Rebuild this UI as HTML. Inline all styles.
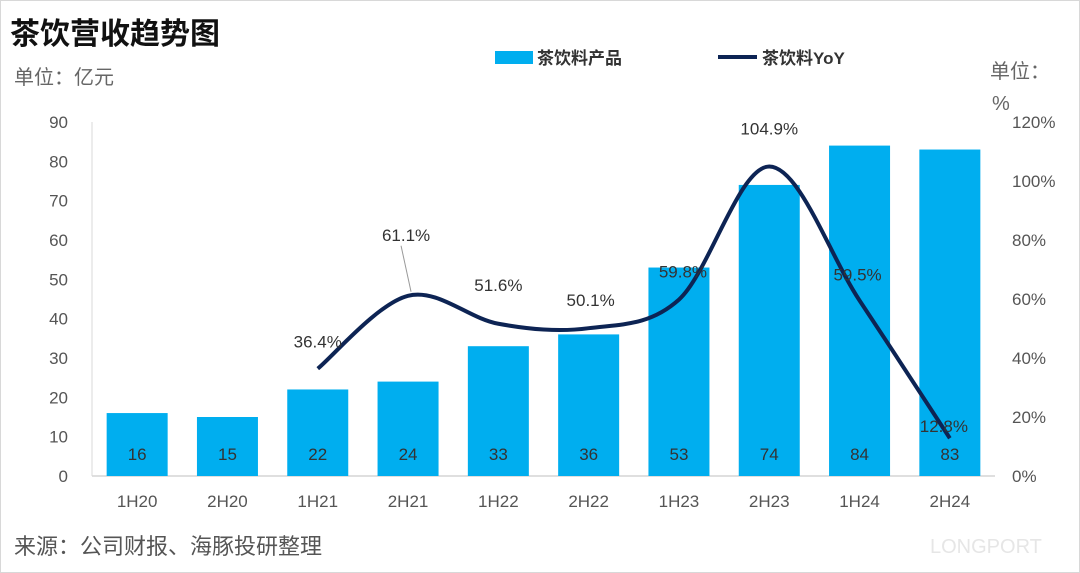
<!DOCTYPE html>
<html><head><meta charset="utf-8">
<style>
body{margin:0;background:#fff;}
svg{display:block;font-family:"Liberation Sans","Noto Sans CJK SC",sans-serif;}
</style></head>
<body>
<svg id="chart" width="1080" height="573" viewBox="0 0 1080 573">
<rect x="0.5" y="0.5" width="1079" height="572" fill="#fff" stroke="#d8d8d8"/>
<text x="10" y="44" font-size="30" font-weight="bold" fill="#111">茶饮营收趋势图</text>
<text x="14" y="84" font-size="20" fill="#666">单位：亿元</text>
<text x="990" y="78" font-size="20" fill="#666">单位：</text>
<text x="992" y="110" font-size="20" fill="#666">%</text>
<g>
<rect x="495" y="51" width="38" height="13" fill="#00aeef"/>
<text x="537" y="64" font-size="17" font-weight="bold" fill="#333">茶饮料产品</text>
<line x1="718" y1="57" x2="757" y2="57" stroke="#0d2454" stroke-width="4"/>
<text x="762" y="64" font-size="17" font-weight="bold" fill="#333">茶饮料YoY</text>
</g>
<g id="axes"></g><g id="bars"></g><g id="line"></g>
<text x="14" y="554" font-size="22" fill="#555">来源：公司财报、海豚投研整理</text>
<text x="930" y="553" font-size="20" fill="#e6e6e6">LONGPORT</text>
</svg>
<script>
const categories=["1H20","2H20","1H21","2H21","1H22","2H22","1H23","2H23","1H24","2H24"];
const revenue=[16,15,22,24,33,36,53,74,84,83];
const yoy=[null,null,36.4,61.1,51.6,50.1,59.8,104.9,59.5,12.8];
const leftTicks=[0,10,20,30,40,50,60,70,80,90];
const rightTicks=[0,20,40,60,80,100,120];
const NS="http://www.w3.org/2000/svg";
const x0=92,x1=995,yBase=476,yTop=122;
const step=(x1-x0)/categories.length;
const xs=i=>x0+step*(i+0.5);
const yL=v=>yBase-(v/90)*(yBase-yTop);
const yR=v=>yBase-(v/120)*(yBase-yTop);
function mk(tag,attrs,parent,txt){const e=document.createElementNS(NS,tag);for(const k in attrs)e.setAttribute(k,attrs[k]);if(txt!=null)e.textContent=txt;parent.appendChild(e);return e;}
const ax=document.getElementById('axes'),bg=document.getElementById('bars'),lg=document.getElementById('line');
let e=mk('line',{x1:x0,y1:yBase,x2:x1,y2:yBase,stroke:'#bfbfbf'},ax);

e=mk('line',{x1:x0,y1:yTop,x2:x0,y2:yBase,stroke:'#d9d9d9'},ax);

leftTicks.forEach(t=>{const el=mk('text',{x:68,y:yL(t)+6,'text-anchor':'end','font-size':17,fill:'#555'},ax,t);
});
rightTicks.forEach(t=>{const el=mk('text',{x:1012,y:yR(t)+6,'font-size':17,fill:'#555'},ax,t+'%');
});
categories.forEach((c,i)=>{const el=mk('text',{x:xs(i),y:507,'text-anchor':'middle','font-size':17,fill:'#555'},ax,c);
});
revenue.forEach((v,i)=>{const w=61;const r=mk('rect',{x:xs(i)-w/2,y:yL(v),width:w,height:yBase-yL(v),fill:'#00aeef'},bg);

const t=mk('text',{x:xs(i),y:460,'text-anchor':'middle','font-size':17,fill:'#333'},bg,v);
});
const pts=[];yoy.forEach((v,i)=>{if(v!=null)pts.push([xs(i),yR(v)]);});
let d='M'+pts[0][0]+','+pts[0][1];
for(let i=0;i<pts.length-1;i++){const p0=pts[Math.max(0,i-1)],p1=pts[i],p2=pts[i+1],p3=pts[Math.min(pts.length-1,i+2)];
const c1=[p1[0]+(p2[0]-p0[0])/6,p1[1]+(p2[1]-p0[1])/6],c2=[p2[0]-(p3[0]-p1[0])/6,p2[1]-(p3[1]-p1[1])/6];
d+=' C'+c1[0]+','+c1[1]+' '+c2[0]+','+c2[1]+' '+p2[0]+','+p2[1];}
const path=mk('path',{d:d,fill:'none',stroke:'#0d2454','stroke-width':4,'stroke-linejoin':'round'},lg);

const offs={2:[0,-27],3:[-2,-61],4:[0,-39],5:[2,-28],6:[4,-28],7:[0,-38],8:[-2,-26],9:[-6,-12]};
yoy.forEach((v,i)=>{if(v==null)return;const o=offs[i]||[0,-25];
const t=mk('text',{x:xs(i)+o[0],y:yR(v)+o[1]+6,'text-anchor':'middle','font-size':17,fill:'#333'},lg,v.toFixed(1)+'%');
});
const ll=mk('line',{x1:xs(3)+3,y1:yR(yoy[3])-4,x2:xs(3)-7,y2:yR(yoy[3])-50,stroke:'#999','stroke-width':1},lg);

</script>
</body></html>
